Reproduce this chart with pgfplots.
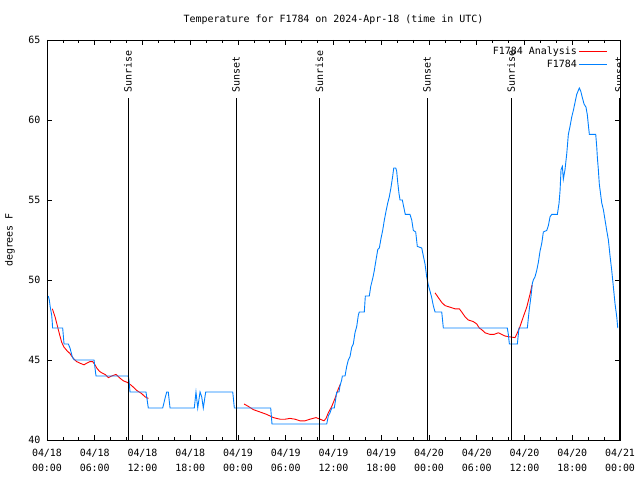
\documentclass[border=0pt]{standalone}
\usepackage{fontspec}
\setmainfont{DejaVu Sans Mono}
\usepackage{pgfplots}
\pgfplotsset{compat=1.18}
\definecolor{obsblue}{RGB}{0,128,255}

\begin{document}
\begin{tikzpicture}
\path[use as bounding box] (-47bp,-40bp) rectangle (593bp,440bp);
\begin{axis}[
  at={(0,0)}, anchor=south west,
  width=573bp, height=400bp, scale only axis,
  xmin=0, xmax=72, ymin=40, ymax=65,
  xtick={0,6,...,72},
  xticklabels={{04/18\\00:00},{04/18\\06:00},{04/18\\12:00},{04/18\\18:00},
               {04/19\\00:00},{04/19\\06:00},{04/19\\12:00},{04/19\\18:00},
               {04/20\\00:00},{04/20\\06:00},{04/20\\12:00},{04/20\\18:00},
               {04/21\\00:00}},
  minor x tick num=2,
  ytick={40,45,...,65},
  tick align=inside,
  major tick length=5bp, minor tick length=3bp,
  tick style={black, line width=0.8bp},
  axis line style={line width=0.8bp},
  xticklabel style={align=center, font=\fontsize{10}{15}\selectfont, yshift=-6bp},
  yticklabel style={xshift=-3bp},
  /pgf/number format/assume math mode=true,
  ylabel={degrees F},
  every axis y label/.style={at={(axis description cs:0,0.5)}, xshift=-37bp, rotate=90, anchor=center},
  title={Temperature for F1784 on 2024-Apr-18 (time in UTC)},
  every axis title/.style={at={(axis description cs:0.5,1)}, anchor=center, yshift=20bp},
  legend style={draw=none, fill=none, at={(axis description cs:1,1)}, anchor=north east,
                xshift=-9bp, yshift=-3bp, row sep=0bp},
  legend cell align=right,
  legend plot pos=right,
  legend image code/.code={\draw[#1] (0bp,0bp) -- (28bp,0bp);},
  unbounded coords=jump,
]
% Analysis (red)
\addplot[red, line width=0.9bp] coordinates {
(0.67,48.2) (1.01,47.7) (1.22,47.3) (1.42,46.9) (1.63,46.5) (1.85,46.1) (2.14,45.8)
(2.48,45.6) (2.89,45.4) (3.30,45.1) (3.73,44.9) (4.15,44.8) (4.65,44.7) (4.99,44.8)
(5.40,44.9) (5.74,44.9) (6.03,44.7) (6.25,44.5) (6.58,44.3) (6.87,44.2) (7.29,44.1)
(7.71,43.9) (8.13,44.0) (8.67,44.1) (9.09,43.9) (9.59,43.7) (10.09,43.6) (10.64,43.4)
(11.27,43.1) (11.90,42.9) (12.31,42.7) (12.73,42.6)
(18,nan)
(24.76,42.25) (25.30,42.1) (25.92,41.9) (26.77,41.75) (27.61,41.6) (28.44,41.4)
(29.28,41.3) (29.91,41.3) (30.54,41.35) (31.16,41.3) (31.79,41.2) (32.42,41.2)
(33.05,41.3) (33.80,41.4) (34.31,41.3) (34.81,41.2) (35.06,41.35) (35.35,41.7)
(35.78,42.1) (36.19,42.6) (36.61,43.2) (36.88,43.5)
(42,nan)
(48.76,49.2) (49.17,48.9) (49.60,48.6) (50.01,48.4) (50.64,48.3) (51.27,48.2)
(51.81,48.2) (52.11,48.0) (52.53,47.7) (52.94,47.5) (53.57,47.4) (54.00,47.25)
(54.32,47.0) (54.62,46.9) (55.04,46.7) (55.67,46.6) (56.17,46.6) (56.71,46.7)
(57.14,46.6) (57.55,46.5) (58.09,46.45) (58.81,46.4) (59.10,46.7) (59.44,47.1)
(59.85,47.7) (60.28,48.3) (60.69,49.1) (60.95,49.7)
};
\addlegendentry{F1784 Analysis}
% Observations (blue)
\addplot[obsblue, line width=0.9bp] coordinates {
(0.16,49.0) (0.29,48.75) (0.41,48.3) (0.59,47.8) (0.67,47.3) (0.70,47.0) (1.97,47.0)
(2.14,46.0) (2.68,46.0) (2.89,45.75) (3.02,45.5) (3.18,45.2) (3.43,45.0) (5.91,45.0)
(6.03,44.5) (6.16,44.0) (10.22,44.0) (10.30,43.75) (10.43,43.0) (12.44,43.0)
(12.73,42.0) (14.54,42.0) (14.83,42.6) (15.04,43.0) (15.24,43.0) (15.46,42.0)
(18.51,42.0) (18.72,43.0) (18.94,42.0) (19.23,43.0) (19.44,42.7) (19.64,42.0)
(19.94,43.0) (23.34,43.0) (23.54,42.0) (28.11,42.0) (28.27,41.0) (35.15,41.0)
(35.35,41.5) (35.56,41.7) (35.78,42.0) (36.10,42.0) (36.32,42.7) (36.40,43.0)
(36.69,43.0) (36.82,43.4) (37.03,43.75) (37.11,44.0) (37.45,44.0) (37.66,44.6)
(37.86,45.0) (38.07,45.2) (38.29,45.8) (38.49,46.0) (38.70,46.7) (38.92,47.1)
(39.12,47.8) (39.24,48.0) (39.87,48.0) (40.00,49.0) (40.50,49.0) (40.68,49.6)
(40.93,50.1) (41.13,50.6) (41.34,51.25) (41.56,51.9) (41.76,52.0) (41.97,52.6)
(42.18,53.1) (42.39,53.75) (42.60,54.3) (42.81,54.8) (43.01,55.2) (43.23,55.8)
(43.44,56.5) (43.57,57.0) (43.82,57.0) (43.94,56.8) (44.07,56.1) (44.23,55.4)
(44.36,55.0) (44.65,55.0) (44.77,54.7) (45.02,54.1) (45.61,54.1) (45.83,53.75)
(46.03,53.1) (46.33,53.0) (46.53,52.1) (47.09,52.0) (47.29,51.5) (47.50,51.0)
(47.71,50.2) (47.91,49.7) (48.13,49.3) (48.34,48.9) (48.54,48.4) (48.76,48.0)
(49.60,48.0) (49.80,47.0) (57.84,47.0) (57.97,46.6) (58.10,46.0) (59.10,46.0)
(59.31,47.0) (60.36,47.0) (60.48,47.6) (60.61,48.2) (60.82,49.0) (60.99,49.8)
(61.11,50.0) (61.32,50.2) (61.54,50.6) (61.74,51.1) (61.95,51.8) (62.17,52.3)
(62.37,53.0) (62.80,53.1) (63.00,53.4) (63.21,53.95) (63.42,54.1) (64.13,54.1)
(64.34,54.8) (64.47,55.6) (64.59,56.9) (64.76,57.1) (64.88,56.3) (65.09,56.9)
(65.31,57.9) (65.51,59.1) (65.72,59.6) (65.94,60.2) (66.14,60.6) (66.35,61.1)
(66.56,61.6) (66.89,62.0) (67.07,61.8) (67.27,61.4) (67.48,61.0) (67.73,60.8)
(67.90,60.3) (68.02,59.7) (68.15,59.1) (68.95,59.1) (69.08,58.3) (69.15,57.7)
(69.28,56.9) (69.40,56.0) (69.58,55.3) (69.71,54.8) (69.91,54.4) (70.12,53.75)
(70.33,53.1) (70.54,52.5) (70.75,51.5) (70.96,50.6) (71.16,49.6) (71.38,48.5)
(71.59,47.7) (71.72,47.0)
};
\addlegendentry{F1784}
% Sunrise / sunset markers
\addplot[black, line width=1bp, forget plot] coordinates {(10.18,40) (10.18,61.35)};
\addplot[black, line width=1bp, forget plot] coordinates {(23.75,40) (23.75,61.35)};
\addplot[black, line width=1bp, forget plot] coordinates {(34.24,40) (34.24,61.35)};
\addplot[black, line width=1bp, forget plot] coordinates {(47.75,40) (47.75,61.35)};
\addplot[black, line width=1bp, forget plot] coordinates {(58.31,40) (58.31,61.35)};
\addplot[black, line width=1bp, forget plot] coordinates {(71.88,40) (71.88,61.35)};
\node[rotate=90, anchor=west, inner sep=0pt] at (axis cs:10.18,61.7) {Sunrise};
\node[rotate=90, anchor=west, inner sep=0pt] at (axis cs:23.75,61.7) {Sunset};
\node[rotate=90, anchor=west, inner sep=0pt] at (axis cs:34.24,61.7) {Sunrise};
\node[rotate=90, anchor=west, inner sep=0pt] at (axis cs:47.75,61.7) {Sunset};
\node[rotate=90, anchor=west, inner sep=0pt] at (axis cs:58.31,61.7) {Sunrise};
\node[rotate=90, anchor=west, inner sep=0pt] at (axis cs:71.88,61.7) {Sunset};
\end{axis}
\end{tikzpicture}
\end{document}
